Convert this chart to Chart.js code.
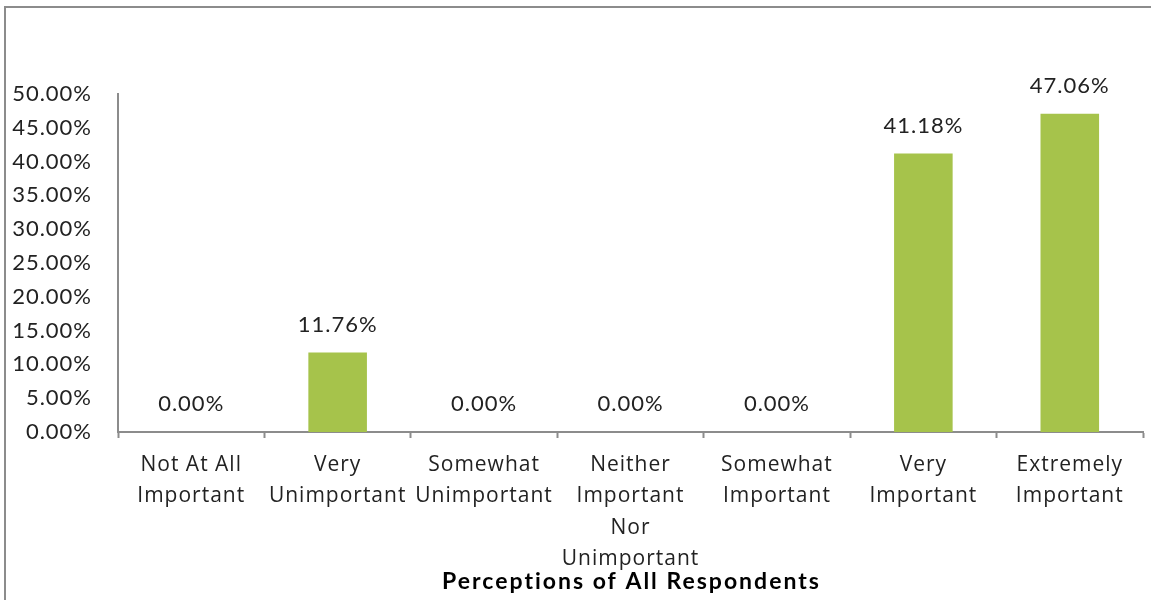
<!DOCTYPE html>
<html>
<head>
<meta charset="utf-8">
<script src="https://cdn.jsdelivr.net/npm/chart.js@4.4.0/dist/chart.umd.min.js"></script>
<style>
  html, body { margin: 0; padding: 0; background: #fff; }
  #wrap { position: relative; width: 1151px; height: 600px; overflow: hidden; }
  #frame { position: absolute; left: 4px; top: 6px; width: 1200px; height: 700px;
           border-left: 2px solid #8c8c8c; border-top: 2px solid #8c8c8c; }
  canvas { position: absolute; left: 0; top: 0; }
</style>
</head>
<body>
<div id="wrap">
  <div id="frame"></div>
  <canvas id="c" width="1151" height="600"></canvas>
</div>
<script>
const categories = [
  ["Not At All", "Important"],
  ["Very", "Unimportant"],
  ["Somewhat", "Unimportant"],
  ["Neither", "Important", "Nor", "Unimportant"],
  ["Somewhat", "Important"],
  ["Very", "Important"],
  ["Extremely", "Important"]
];
const values = [0.00, 11.76, 0.00, 0.00, 0.00, 41.18, 47.06];
const yTickStep = 5;
const yMax = 50;
const chartTitle = "Perceptions of All Respondents";

const FONT = "Lato, Carlito, Calibri, 'Noto Sans', sans-serif";
const XFONT = "'Open Sans', Lato, sans-serif";
const TEXT = '#222';
const AXIS = '#8c8c8c';

const spacing = {
  id: 'spacing',
  beforeInit(chart) { chart.ctx.letterSpacing = '1px'; },
  beforeUpdate(chart) { chart.ctx.letterSpacing = '1px'; },
  beforeDraw(chart) { chart.ctx.letterSpacing = '1px'; }
};

const dataLabels = {
  id: 'dataLabels',
  afterDatasetsDraw(chart) {
    const ctx = chart.ctx;
    const meta = chart.getDatasetMeta(0);
    ctx.save();
    ctx.font = '22px ' + FONT;
    ctx.fillStyle = TEXT;
    ctx.textAlign = 'center';
    ctx.textBaseline = 'middle';
    meta.data.forEach((bar, i) => {
      ctx.fillText(values[i].toFixed(2) + '%', bar.x, bar.y - 28);
    });
    ctx.restore();
  }
};

const bottomTitle = {
  id: 'bottomTitle',
  afterDraw(chart) {
    const ctx = chart.ctx;
    const area = chart.chartArea;
    ctx.save();
    ctx.letterSpacing = '2px';
    ctx.font = 'bold 23px ' + FONT;
    ctx.fillStyle = '#000';
    ctx.textAlign = 'center';
    ctx.textBaseline = 'middle';
    ctx.fillText(chartTitle, (area.left + area.right) / 2 + 1, 582);
    ctx.restore();
  }
};

new Chart(document.getElementById('c'), {
  type: 'bar',
  data: {
    labels: categories,
    datasets: [{
      data: values,
      backgroundColor: '#a6c34b',
      borderWidth: 0,
      barPercentage: 0.4,
      categoryPercentage: 1.0
    }]
  },
  options: {
    responsive: false,
    animation: false,
    events: [],
    layout: { padding: { left: 0, right: 8, top: 94, bottom: 0 } },
    plugins: {
      legend: { display: false },
      tooltip: { enabled: false },
      title: { display: false }
    },
    scales: {
      x: {
        offset: true,
        afterFit(scale) { scale.height = 600 - 432; },
        grid: {
          display: true,
          offset: true,
          drawOnChartArea: false,
          drawTicks: true,
          tickLength: 6,
          tickColor: AXIS,
          tickWidth: 2,
          color: AXIS
        },
        border: { display: true, color: AXIS, width: 2 },
        ticks: {
          autoSkip: false,
          maxRotation: 0,
          minRotation: 0,
          padding: 11,
          color: TEXT,
          font: { family: XFONT, size: 21, lineHeight: 1.5 }
        },
        title: { display: false }
      },
      y: {
        min: 0,
        max: yMax,
        afterFit(scale) { scale.width = 118; },
        grid: { display: false, drawTicks: false },
        border: { display: true, color: AXIS, width: 2 },
        ticks: {
          stepSize: yTickStep,
          padding: 26,
          color: TEXT,
          font: { family: FONT, size: 22 },
          callback: v => Number(v).toFixed(2) + '%'
        }
      }
    }
  },
  plugins: [spacing, dataLabels, bottomTitle]
});
</script>
</body>
</html>
